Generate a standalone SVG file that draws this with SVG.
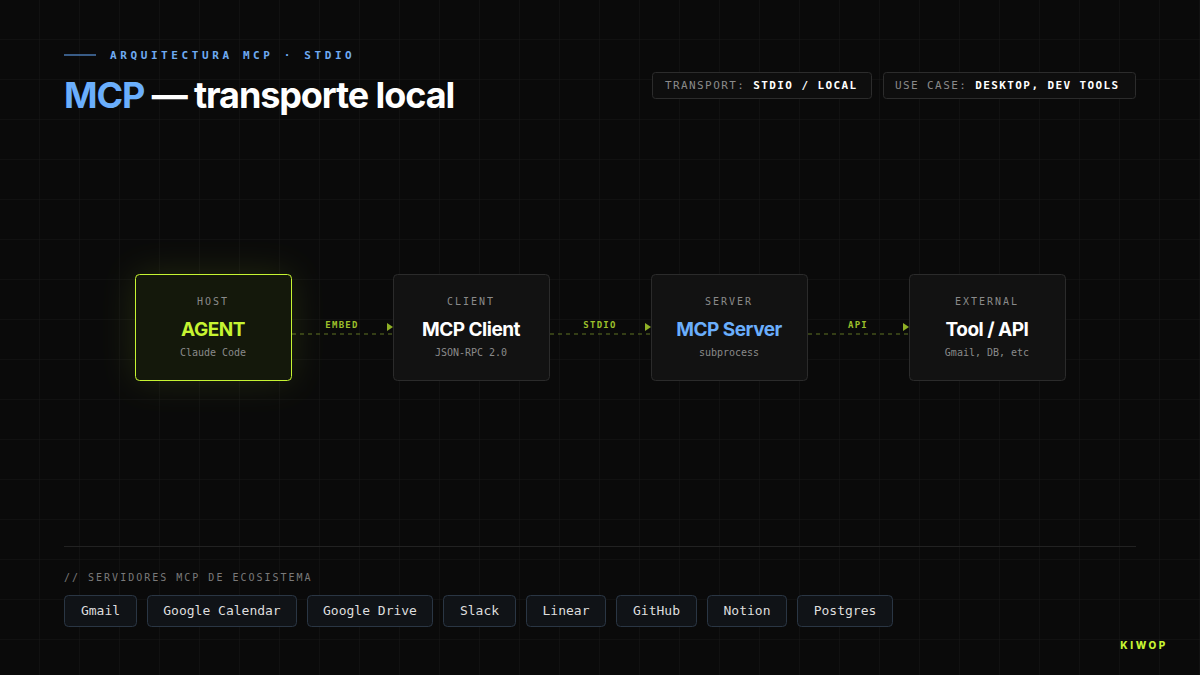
<svg xmlns="http://www.w3.org/2000/svg" width="1200" height="675" viewBox="0 0 1200 675">
<defs>
<pattern id="grid" width="40" height="40" patternUnits="userSpaceOnUse">
<path d="M40 0V40M0 40H40" fill="none" stroke="#171717" stroke-width="1"/>
</pattern>
<filter id="glow" x="-60%" y="-60%" width="220%" height="220%">
<feGaussianBlur stdDeviation="18"/>
</filter>
<style>
.mono{font-family:"DejaVu Sans Mono","Liberation Mono",monospace}
.sans{font-family:Inter,"Liberation Sans",sans-serif}
.nlabel{font-size:10px;letter-spacing:2px;fill:#8a8a8a;text-anchor:middle}
.ntitle{font-size:19px;font-weight:700;letter-spacing:-0.5px;text-anchor:middle}
.nsub{font-size:10px;fill:#8a8a8a;text-anchor:middle}
.box{fill:#121212;stroke:#2b2b2b;stroke-width:1}
.elabel{font-size:9px;font-weight:700;letter-spacing:1.3px;fill:#9cbf2a;text-anchor:middle}
.edge{stroke:#5f7322;stroke-width:1;stroke-dasharray:4 4;fill:none}
.arrow{fill:#8fb026}
.chip rect{fill:#101317;stroke:#2a3644;stroke-width:1}
.chip text{font-size:13px;fill:#dedede;text-anchor:middle}
.tag rect{fill:#0e0e0e;stroke:#2c2c2c;stroke-width:1}
.tag text{font-size:11px;letter-spacing:1.4px;fill:#8a8a8a}
.tag tspan.v{fill:#ffffff;font-weight:700}
</style>
</defs>
<rect width="1200" height="675" fill="#0a0a0a"/>
<rect width="1200" height="675" fill="url(#grid)"/>

<g id="header">
<line x1="64" y1="55" x2="96" y2="55" stroke="#4a78b0" stroke-width="1.5"/>
<text x="110" y="59" class="mono" font-size="11" font-weight="700" letter-spacing="3.6" fill="#6faaf2">ARQUITECTURA MCP · STDIO</text>
<text x="64" y="108" class="sans" font-size="36" font-weight="700" letter-spacing="-1.1" fill="#ffffff"><tspan fill="#6aaefc">MCP</tspan> — transporte local</text>
</g>

<g id="tag-transport" class="tag mono">
<rect x="652.5" y="72.5" width="219" height="26" rx="3"/>
<text x="665" y="89">TRANSPORT: <tspan class="v">STDIO / LOCAL</tspan></text>
</g>
<g id="tag-usecase" class="tag mono">
<rect x="883.5" y="72.5" width="252" height="26" rx="3"/>
<text x="895" y="89">USE CASE: <tspan class="v">DESKTOP, DEV TOOLS</tspan></text>
</g>

<g id="connectors">
<line class="edge" x1="292" y1="334" x2="392" y2="334"/>
<text class="elabel mono" x="342" y="328">EMBED</text>
<path class="arrow" d="M387 323L393 327L387 331Z"/>
<line class="edge" x1="550" y1="334" x2="650" y2="334"/>
<text class="elabel mono" x="600" y="328">STDIO</text>
<path class="arrow" d="M645 323L651 327L645 331Z"/>
<line class="edge" x1="808" y1="334" x2="908" y2="334"/>
<text class="elabel mono" x="858" y="328">API</text>
<path class="arrow" d="M903 323L909 327L903 331Z"/>
</g>

<g id="node-agent">
<rect x="135" y="274" width="156" height="106" rx="4" fill="#c6f432" opacity="0.13" filter="url(#glow)"/>
<rect x="135.5" y="274.5" width="156" height="106" rx="4" fill="#14180b" stroke="#c6f432" stroke-width="1"/>
<text class="nlabel mono" x="213" y="305">HOST</text>
<text class="ntitle sans" x="213" y="336" fill="#c6f432">AGENT</text>
<text class="nsub mono" x="213" y="356">Claude Code</text>
</g>
<g id="node-client">
<rect class="box" x="393.5" y="274.5" width="156" height="106" rx="4"/>
<text class="nlabel mono" x="471" y="305">CLIENT</text>
<text class="ntitle sans" x="471" y="336" fill="#ffffff">MCP Client</text>
<text class="nsub mono" x="471" y="356">JSON-RPC 2.0</text>
</g>
<g id="node-server">
<rect class="box" x="651.5" y="274.5" width="156" height="106" rx="4"/>
<text class="nlabel mono" x="729" y="305">SERVER</text>
<text class="ntitle sans" x="729" y="336" fill="#6aaefc">MCP Server</text>
<text class="nsub mono" x="729" y="356">subprocess</text>
</g>
<g id="node-external">
<rect class="box" x="909.5" y="274.5" width="156" height="106" rx="4"/>
<text class="nlabel mono" x="987" y="305">EXTERNAL</text>
<text class="ntitle sans" x="987" y="336" fill="#ffffff">Tool / API</text>
<text class="nsub mono" x="987" y="356">Gmail, DB, etc</text>
</g>

<line x1="64" y1="546.5" x2="1136" y2="546.5" stroke="#222222" stroke-width="1"/>

<g id="ecosystem">
<text x="64" y="581" class="mono" font-size="10" letter-spacing="2" fill="#7a7a7a">// SERVIDORES MCP DE ECOSISTEMA</text>
<g class="chip mono"><rect x="64.5" y="595.5" width="72" height="31" rx="4"/><text x="100.5" y="615">Gmail</text></g>
<g class="chip mono"><rect x="147.5" y="595.5" width="149" height="31" rx="4"/><text x="222" y="615">Google Calendar</text></g>
<g class="chip mono"><rect x="307.5" y="595.5" width="125" height="31" rx="4"/><text x="370" y="615">Google Drive</text></g>
<g class="chip mono"><rect x="443.5" y="595.5" width="72" height="31" rx="4"/><text x="479.5" y="615">Slack</text></g>
<g class="chip mono"><rect x="526.5" y="595.5" width="79" height="31" rx="4"/><text x="566" y="615">Linear</text></g>
<g class="chip mono"><rect x="616.5" y="595.5" width="80" height="31" rx="4"/><text x="656.5" y="615">GitHub</text></g>
<g class="chip mono"><rect x="707.5" y="595.5" width="79" height="31" rx="4"/><text x="747" y="615">Notion</text></g>
<g class="chip mono"><rect x="797.5" y="595.5" width="95" height="31" rx="4"/><text x="845" y="615">Postgres</text></g>
</g>

<g id="brand">
<text x="1168" y="649" text-anchor="end" class="sans" font-size="10" font-weight="800" letter-spacing="2.6" fill="#c6f432">KIWOP</text>
</g>
</svg>
